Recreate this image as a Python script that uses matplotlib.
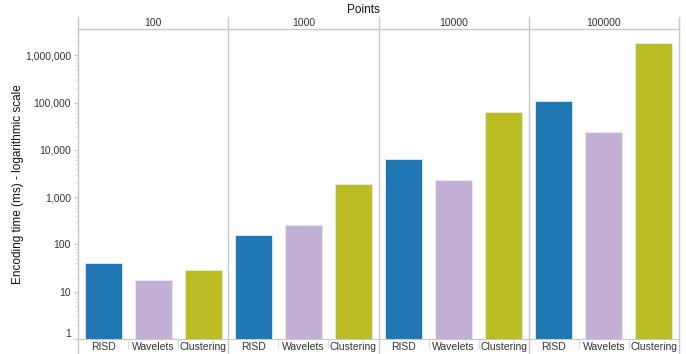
import matplotlib
matplotlib.use("Agg")
import matplotlib.pyplot as plt
from matplotlib.ticker import FuncFormatter, FixedLocator, NullFormatter
import numpy as np

plt.rcParams["font.family"] = ["Liberation Sans", "DejaVu Sans"]

# data (ms, log scale)
points = ["100", "1000", "10000", "100000"]
methods = ["RISD", "Wavelets", "Clustering"]
risd = [41, 161, 6350, 109000]
wavelets = [17.7, 259, 2290, 24000]
clustering = [28.4, 1940, 63700, 1810000]
colors = ["#1f77b4", "#c5b0d5", "#bcbd22"]

GRID = "#c8c8c8"
TXT = "#333333"

fig = plt.figure(figsize=(6.86, 3.54), dpi=100)
ax = fig.add_axes([78 / 686, 15 / 354, 601 / 686, 310 / 354])

n = len(methods)
series = [risd, wavelets, clustering]
for j, (vals, c) in enumerate(zip(series, colors)):
    xs = np.arange(len(points)) * n + j + 0.5
    ax.bar(xs, vals, width=0.74, color=c, edgecolor="#e4ecf4", linewidth=0.6, zorder=2)

ax.set_yscale("log")
ax.set_ylim(1, 10 ** 6.56)
ax.set_xlim(0, n * len(points))

decades = 10.0 ** np.arange(0, 7)
minors = [d * s for d in decades for s in range(2, 10) if d * s < 10 ** 6.56]
ax.yaxis.set_major_locator(FixedLocator(decades))
ax.yaxis.set_minor_locator(FixedLocator(minors))
ax.yaxis.set_minor_formatter(NullFormatter())
ax.yaxis.set_major_formatter(FuncFormatter(lambda v, p: f"{v:,.0f}"))
ax.tick_params(axis="y", which="major", length=3, color=GRID, labelsize=7.5, labelcolor=TXT, pad=2)
ax.tick_params(axis="y", which="minor", length=2, color="#dddddd")

# category labels on x
xt = np.arange(n * len(points)) + 0.5
ax.set_xticks(xt)
ax.set_xticklabels(methods * len(points), fontsize=7.5, color=TXT)
ax.tick_params(axis="x", length=0, pad=2)
for k in range(1, n * len(points)):
    if k % n:
        ax.plot([k, k], [-0.03, 0], transform=ax.get_xaxis_transform(),
                color="#dddddd", lw=0.8, clip_on=False)

for s in ["top", "right"]:
    ax.spines[s].set_visible(False)
ax.spines["left"].set_color(GRID)
ax.spines["bottom"].set_color(GRID)

# panel dividers and header
trans = ax.get_xaxis_transform()
for k in range(0, n * len(points) + 1, n):
    ax.plot([k, k], [-0.045, 1.04], transform=trans, color=GRID, lw=1.0, clip_on=False)
ax.plot([0, n * len(points)], [1, 1], transform=trans, color=GRID, lw=1.0, clip_on=False)
for i, p in enumerate(points):
    ax.text(i * n + n / 2, 1.02, p, transform=trans, ha="center", va="center",
            fontsize=7.5, color=TXT)

fig.text(363 / 686, 1 - 10 / 354, "Points", ha="center", va="center", fontsize=8.5, color="#111111")
fig.text(18 / 686, 1 - 184 / 354, "Encoding time (ms) - logarithmic scale", rotation=90,
         ha="center", va="center", fontsize=8.5, color="#111111")

fig.canvas.draw()
for lab in ax.get_yticklabels():
    if lab.get_text() == "1":
        lab.set_va("bottom")

fig.savefig("out.png", dpi=100)
